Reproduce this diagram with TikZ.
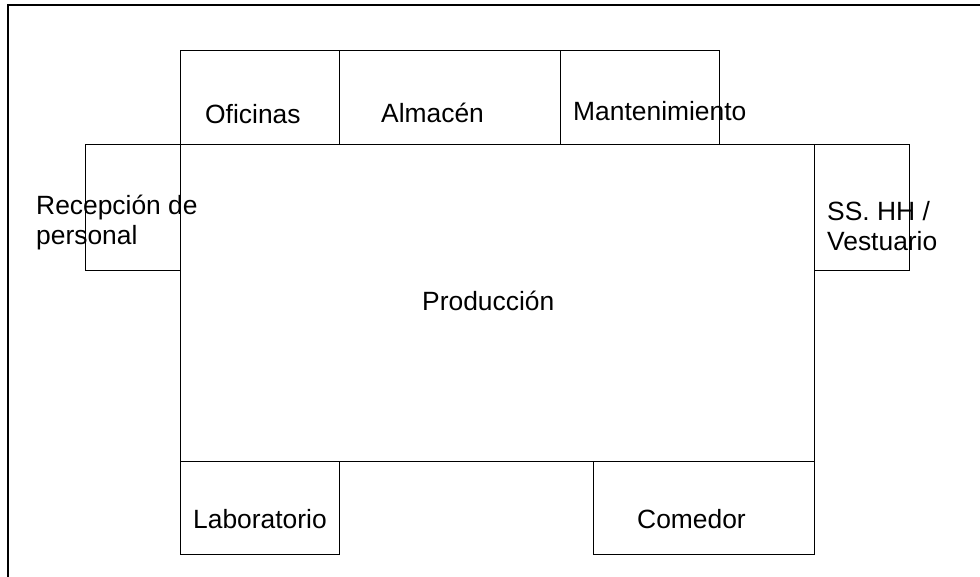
\documentclass[tikz,border=0pt]{standalone}
\usepackage{fontspec}
\setmainfont{Liberation Sans}
\begin{document}
\begin{tikzpicture}[x=1pt,y=-1pt,
  room/.style={draw=black,line width=1pt},
  frame/.style={draw=black,line width=2pt},
  lbl/.style={inner sep=0pt,anchor=base west,font=\fontsize{26.4}{30.5}\selectfont,align=left}]
\useasboundingbox (0,0) rectangle (980,577);
% outer frame (top and left)
\draw[frame] (8,577) -- (8,5) -- (980,5);
% rooms
\draw[room] (180,51) rectangle (339,145);
\draw[room] (339,51) rectangle (560,145);
\draw[room] (560,51) rectangle (719,145);
\draw[room] (85,145) rectangle (180,271);
\draw[room] (814,145) rectangle (909,271);
\draw[room] (180,145) rectangle (814,461);
\draw[room] (180,461) rectangle (339,554);
\draw[room] (593,461) rectangle (814,554);
% labels
\node[lbl] (ofi) at (205,124) {Oficinas};
\node[lbl] (alm) at (381,123) {Almacén};
\node[lbl] (man) at (573,121) {Mantenimiento};
\node[lbl] (rec) at (36,245) {Recepción de\\personal};
\node[lbl] (ssh) at (827,251) {SS. HH /\\Vestuario};
\node[lbl] (pro) at (422,311) {Producción};
\node[lbl] (lab) at (193,528) {Laboratorio};
\node[lbl] (com) at (637,528) {Comedor};
\end{tikzpicture}
\end{document}
